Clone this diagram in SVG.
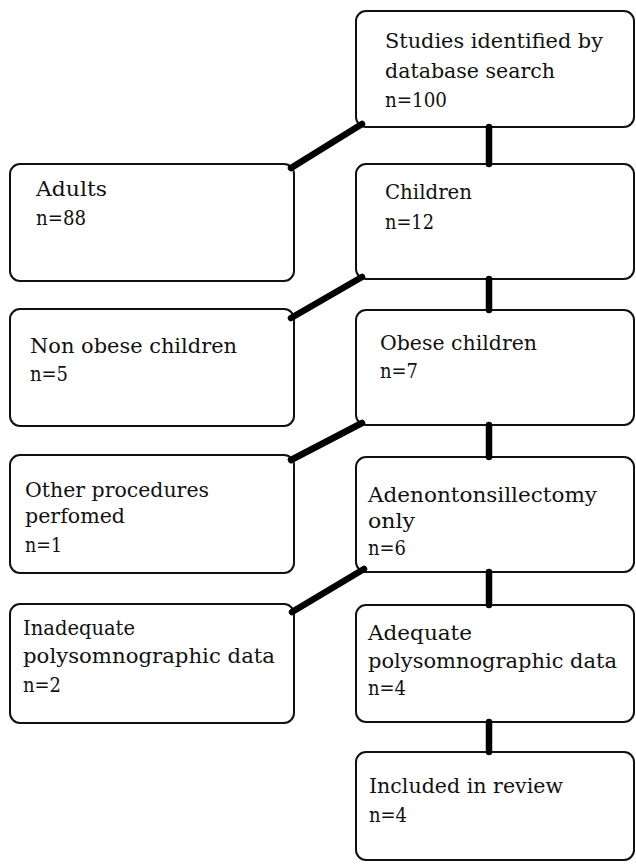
<svg xmlns="http://www.w3.org/2000/svg" width="636" height="866" viewBox="0 0 636 866">
<style>
.box{fill:#fff;stroke:#111;stroke-width:2}
.t{font-family:"DejaVu Serif","Liberation Serif",serif;font-size:21px;fill:#111}
.c{stroke:#000;stroke-width:6.5;stroke-linecap:round;fill:none}
</style>
<rect width="636" height="866" fill="#fff"/>
<g id="n1"><rect class="box" x="356" y="11" width="278" height="116" rx="10"/>
<text class="t" x="385" y="48" textLength="218" lengthAdjust="spacingAndGlyphs">Studies identified by</text>
<text class="t" x="385" y="78" textLength="170" lengthAdjust="spacingAndGlyphs">database search</text>
<text class="t" x="385" y="107" textLength="62" lengthAdjust="spacingAndGlyphs">n=100</text></g>
<g id="n2"><rect class="box" x="356" y="164" width="278" height="115" rx="10"/>
<text class="t" x="385" y="199" textLength="87" lengthAdjust="spacingAndGlyphs">Children</text>
<text class="t" x="385" y="229" textLength="49" lengthAdjust="spacingAndGlyphs">n=12</text></g>
<g id="n3"><rect class="box" x="10" y="164" width="284" height="117" rx="10"/>
<text class="t" x="36" y="196" textLength="71" lengthAdjust="spacingAndGlyphs">Adults</text>
<text class="t" x="36" y="225" textLength="50" lengthAdjust="spacingAndGlyphs">n=88</text></g>
<g id="n4"><rect class="box" x="356" y="310" width="278" height="115" rx="10"/>
<text class="t" x="380" y="350" textLength="157" lengthAdjust="spacingAndGlyphs">Obese children</text>
<text class="t" x="380" y="378" textLength="38" lengthAdjust="spacingAndGlyphs">n=7</text></g>
<g id="n5"><rect class="box" x="10" y="309" width="284" height="117" rx="10"/>
<text class="t" x="30" y="353" textLength="207" lengthAdjust="spacingAndGlyphs">Non obese children</text>
<text class="t" x="30" y="381" textLength="38" lengthAdjust="spacingAndGlyphs">n=5</text></g>
<g id="n6"><rect class="box" x="356" y="457" width="278" height="115" rx="10"/>
<text class="t" x="368" y="502" textLength="229" lengthAdjust="spacingAndGlyphs">Adenontonsillectomy</text>
<text class="t" x="368" y="528" textLength="47" lengthAdjust="spacingAndGlyphs">only</text>
<text class="t" x="368" y="555" textLength="38" lengthAdjust="spacingAndGlyphs">n=6</text></g>
<g id="n7"><rect class="box" x="10" y="455" width="284" height="118" rx="10"/>
<text class="t" x="25" y="497" textLength="184" lengthAdjust="spacingAndGlyphs">Other procedures</text>
<text class="t" x="25" y="523" textLength="100" lengthAdjust="spacingAndGlyphs">perfomed</text>
<text class="t" x="25" y="552" textLength="37" lengthAdjust="spacingAndGlyphs">n=1</text></g>
<g id="n8"><rect class="box" x="356" y="605" width="278" height="117" rx="10"/>
<text class="t" x="368" y="640" textLength="104" lengthAdjust="spacingAndGlyphs">Adequate</text>
<text class="t" x="368" y="668" textLength="249" lengthAdjust="spacingAndGlyphs">polysomnographic data</text>
<text class="t" x="368" y="695" textLength="38" lengthAdjust="spacingAndGlyphs">n=4</text></g>
<g id="n9"><rect class="box" x="10" y="604" width="284" height="119" rx="10"/>
<text class="t" x="23" y="635" textLength="112" lengthAdjust="spacingAndGlyphs">Inadequate</text>
<text class="t" x="23" y="663" textLength="252" lengthAdjust="spacingAndGlyphs">polysomnographic data</text>
<text class="t" x="23" y="692" textLength="38" lengthAdjust="spacingAndGlyphs">n=2</text></g>
<g id="n10"><rect class="box" x="356" y="752" width="278" height="108" rx="10"/>
<text class="t" x="369" y="793" textLength="194" lengthAdjust="spacingAndGlyphs">Included in review</text>
<text class="t" x="369" y="822" textLength="38" lengthAdjust="spacingAndGlyphs">n=4</text></g>
<g id="connectors">
<line class="c" x1="489" y1="127" x2="489" y2="164"/>
<line class="c" x1="489" y1="279" x2="489" y2="310"/>
<line class="c" x1="489" y1="425" x2="489" y2="457"/>
<line class="c" x1="489" y1="572" x2="489" y2="605"/>
<line class="c" x1="489" y1="722" x2="489" y2="752"/>
<line class="c" x1="362" y1="124" x2="291" y2="168"/>
<line class="c" x1="362" y1="277" x2="291" y2="318"/>
<line class="c" x1="362" y1="423" x2="291" y2="460"/>
<line class="c" x1="364" y1="569" x2="292" y2="612"/>
</g>
</svg>
